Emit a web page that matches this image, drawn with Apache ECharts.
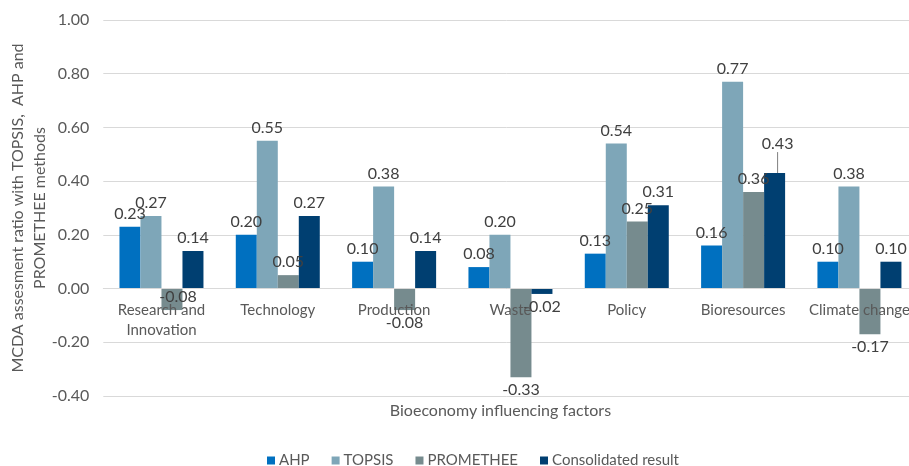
<!DOCTYPE html>
<html>
<head>
<meta charset="utf-8">
<script src="https://cdn.jsdelivr.net/npm/echarts@6/dist/echarts.min.js"></script>
<style>
  html, body { margin: 0; padding: 0; background: #ffffff; }
  #chart { width: 909px; height: 466px; }
</style>
</head>
<body>
<div id="chart"></div>
<script>
// Bioeconomy influencing factors and their MCDA scores
const categories = ['Research and\nInnovation', 'Technology', 'Production', 'Waste', 'Policy', 'Bioresources', 'Climate change'];
const ahp = [0.23, 0.20, 0.10, 0.08, 0.13, 0.16, 0.10];
const topsis = [0.27, 0.55, 0.38, 0.20, 0.54, 0.77, 0.38];
const promethee = [-0.08, 0.05, -0.08, -0.33, 0.25, 0.36, -0.17];
const consolidated = [0.14, 0.27, 0.14, -0.02, 0.31, 0.43, 0.10];
const seriesNames = ['AHP', 'TOPSIS', 'PROMETHEE', 'Consolidated result'];
const yTicks = { min: -0.4, max: 1.0, step: 0.2 };

const colors = ['#0070C0', '#7EA6B8', '#768B8E', '#003F71'];
const FONT = 'Lato, "Open Sans", sans-serif';
const TEXT = '#595959';

// Plot box in pixels; the category axis sits on the zero line of the value axis
const PLOT = { left: 103.3, right: -8.6, top: 20, bottom: 70 };
const plotHeight = 466 - PLOT.top - PLOT.bottom;
const zeroOffset = -plotHeight * (0 - yTicks.min) / (yTicks.max - yTicks.min);

// Positive values labelled above the bar, negatives below it
function toItems(values, seriesIdx) {
  return values.map(function (v, i) {
    const item = { value: v, label: { position: v < 0 ? 'bottom' : 'top' } };
    if (seriesIdx === 2 && i === 0) {
      item.label = { position: 'insideTop', distance: 0, offset: [6, 0] };
    }
    if (seriesIdx === 3 && i === 5) {
      item.labelLine = { show: true, lineStyle: { color: '#7f7f7f', width: 1 } };
    }
    return item;
  });
}

const allValues = [ahp, topsis, promethee, consolidated];

const chart = echarts.init(document.getElementById('chart'), null, { renderer: 'canvas' });
chart.setOption({
  animation: false,
  color: colors,
  textStyle: { fontFamily: FONT },
  grid: { left: PLOT.left, right: PLOT.right, top: PLOT.top, bottom: PLOT.bottom, containLabel: false, outerBoundsMode: 'none' },
  legend: {
    data: seriesNames,
    left: 262,
    top: 448,
    itemWidth: 8,
    itemHeight: 8,
    itemGap: 22,
    icon: 'rect',
    textStyle: { color: TEXT, fontSize: 15, fontFamily: FONT, padding: [0, 0, 0, -1] }
  },
  xAxis: {
    type: 'category',
    data: categories,
    z: 10,
    offset: zeroOffset,
    name: 'Bioeconomy influencing factors',
    nameLocation: 'middle',
    nameGap: 114,
    nameMoveOverlap: false,
    nameTextStyle: { color: TEXT, fontSize: 16, fontFamily: FONT, padding: [0, 20, 0, 0] },
    axisTick: { show: false },
    axisLine: { onZero: false, lineStyle: { color: '#d9d9d9', width: 1 } },
    axisLabel: { color: TEXT, fontSize: 15, fontFamily: FONT, interval: 0, margin: 12, lineHeight: 20 }
  },
  yAxis: {
    type: 'value',
    min: yTicks.min,
    max: yTicks.max,
    interval: yTicks.step,
    name: 'MCDA assesment ratio with TOPSIS,  AHP and\nPROMETHEE methods',
    nameLocation: 'middle',
    nameGap: 52,
    nameMoveOverlap: false,
    nameTextStyle: { color: TEXT, fontSize: 16, fontFamily: FONT, lineHeight: 22 },
    axisLine: { show: false },
    axisTick: { show: false },
    splitLine: { lineStyle: { color: '#d9d9d9', width: 1 } },
    axisLabel: {
      color: TEXT, fontSize: 16, fontFamily: FONT, margin: 14,
      formatter: function (v) { return v.toFixed(2); }
    }
  },
  series: seriesNames.map(function (name, s) {
    const opt = {
      name: name,
      type: 'bar',
      barWidth: 21,
      barGap: '0%',
      data: toItems(allValues[s], s),
      itemStyle: { color: colors[s] },
      label: {
        show: true,
        color: '#404040',
        fontSize: 16,
        fontFamily: FONT,
        distance: 5,
        formatter: function (p) { return p.value.toFixed(2); }
      }
    };
    if (s === 3) {
      opt.labelLayout = function (p) {
        return p.dataIndex === 5 ? { dy: -16, dx: 3 } : {};
      };
    }
    return opt;
  })
});
</script>
</body>
</html>
